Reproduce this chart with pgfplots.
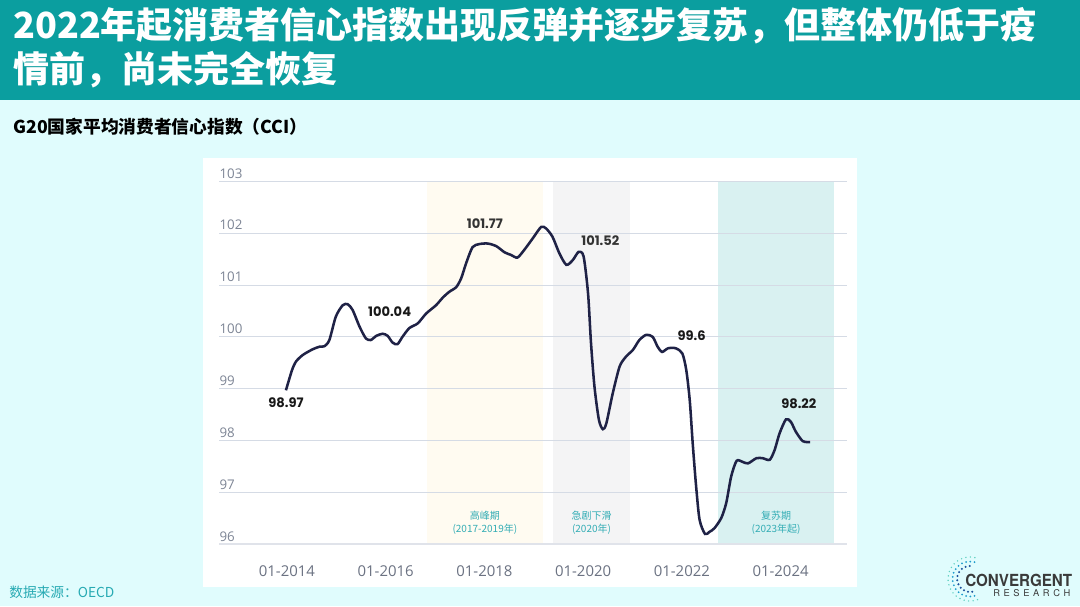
\documentclass[border=0pt]{standalone}
\usepackage{pgfplots}
\pgfplotsset{compat=1.18}
\usepackage{fontspec}
\setmainfont{Open Sans}
\newfontfamily\cjk{Noto Sans CJK SC}
\newfontfamily\pop{Poppins}
\newfontfamily\logofont{TeX Gyre Heros}
\definecolor{bg}{HTML}{E0FCFD}
\definecolor{titlebar}{HTML}{0B9E9F}
\definecolor{src}{HTML}{27AAB3}
\definecolor{peak}{HTML}{FFFBF1}
\definecolor{drop}{HTML}{F4F4F5}
\definecolor{recov}{HTML}{D9F1F1}
\definecolor{gridc}{HTML}{D5DBE5}
\definecolor{basec}{HTML}{E0E3EA}
\definecolor{linec}{HTML}{1F2246}
\definecolor{xtc}{HTML}{6B7282}
\definecolor{ytc}{HTML}{7D8595}
\definecolor{bandtxt}{HTML}{34ADB5}
\definecolor{logotxt}{HTML}{3A3A3A}
\definecolor{dotA}{HTML}{1B4F9C}
\definecolor{dotB}{HTML}{1E9CCC}
\definecolor{dotC}{HTML}{5FD0C0}
\pgfplotstableread{
x y
2013.98 98.97
2014.10 99.35
2014.18 99.52
2014.32 99.65
2014.52 99.76
2014.66 99.81
2014.76 99.82
2014.86 99.94
2014.99 100.39
2015.13 100.61
2015.23 100.63
2015.33 100.52
2015.47 100.20
2015.60 99.97
2015.70 99.94
2015.81 100.02
2015.94 100.06
2016.04 100.02
2016.14 99.89
2016.24 99.86
2016.34 100.00
2016.48 100.17
2016.65 100.26
2016.82 100.45
2017.02 100.61
2017.16 100.76
2017.29 100.87
2017.43 100.96
2017.53 101.13
2017.63 101.42
2017.76 101.73
2017.90 101.79
2018.07 101.80
2018.24 101.75
2018.41 101.63
2018.54 101.58
2018.67 101.53
2018.81 101.68
2018.98 101.90
2019.15 102.12
2019.25 102.09
2019.38 101.93
2019.52 101.61
2019.66 101.39
2019.79 101.48
2019.91 101.64
2020.01 101.55
2020.10 100.84
2020.16 99.88
2020.23 99.04
2020.32 98.40
2020.40 98.22
2020.47 98.33
2020.60 98.91
2020.74 99.43
2020.87 99.62
2021.01 99.75
2021.14 99.94
2021.28 100.04
2021.41 100.00
2021.51 99.81
2021.60 99.71
2021.72 99.78
2021.88 99.78
2022.01 99.68
2022.09 99.36
2022.16 98.78
2022.22 97.95
2022.29 97.11
2022.36 96.47
2022.47 96.20
2022.56 96.24
2022.66 96.31
2022.80 96.51
2022.90 96.80
2023.00 97.31
2023.11 97.61
2023.23 97.59
2023.34 97.56
2023.51 97.66
2023.64 97.66
2023.78 97.63
2023.88 97.82
2023.98 98.14
2024.11 98.41
2024.21 98.36
2024.31 98.17
2024.45 97.99
2024.60 97.97
}\ccidata
\begin{document}
\begin{tikzpicture}
\useasboundingbox (0,0) rectangle (810pt,-454.5pt);
\begin{scope}[x=0.75pt,y=-0.75pt]
\fill[bg] (0,0) rectangle (1080,606);
\fill[titlebar] (0,0) rectangle (1080,100);
\fill[white] (203,158) rectangle (857,587);
\node[anchor=base west, inner sep=0, text=white, font=\cjk\bfseries\fontsize{27}{30}\selectfont] at (13,38.5) {2022年起消费者信心指数出现反弹并逐步复苏，但整体仍低于疫};
\node[anchor=base west, inner sep=0, text=white, font=\cjk\bfseries\fontsize{27}{30}\selectfont] at (13,82.5) {情前，尚未完全恢复};
\node[anchor=base west, inner sep=0, text=black, font=\cjk\bfseries\fontsize{13.3}{15}\selectfont] at (13,133.5) {G20国家平均消费者信心指数（CCI）};
\node[anchor=base west, inner sep=0, text=src, font=\cjk\fontsize{10.3}{12}\selectfont] at (9,597) {数据来源：OECD};
% logo
\draw[dotA, line width=1.7pt, line cap=round, dash pattern=on 0pt off 3.2pt] (970,579) ++(80:13) arc (80:280:13);
\draw[dotB, line width=1.5pt, line cap=round, dash pattern=on 0pt off 3.2pt] (970,579) ++(75:17.5) arc (75:285:17.5);
\draw[dotC, line width=1.2pt, line cap=round, dash pattern=on 0pt off 3.4pt] (970,579) ++(70:22) arc (70:290:22);
\node[anchor=base west, inner sep=0, text=logotxt, font=\logofont\bfseries\fontsize{12.5}{14}\selectfont] at (965,586.7) {\scalebox{0.91}[1]{CONVERGENT}};
\node[anchor=base west, inner sep=0, text=logotxt, font=\logofont\fontsize{7}{8}\selectfont] at (993,596.7) {R\hspace{2.7pt}E\hspace{2.7pt}S\hspace{2.7pt}E\hspace{2.7pt}A\hspace{2.7pt}R\hspace{2.7pt}C\hspace{2.7pt}H};
\end{scope}
\begin{axis}[
  at={(164.475pt,-408.225pt)}, anchor=south west,
  scale only axis, width=470.55pt, height=272.25pt,
  xmin=2012.63, xmax=2025.34, ymin=96, ymax=103,
  axis line style={draw=none},
  xtick={2014,2016,2018,2020,2022,2024},
  xticklabels={01-2014,01-2016,01-2018,01-2020,01-2022,01-2024},
  ytick={96,97,...,103},
  major tick length=0pt,
  tick style={draw=none},
  yticklabel style={anchor=base west, inner sep=0pt, yshift=2.4pt, font=\fontsize{10}{12}\selectfont, text=ytc},
  xticklabel style={anchor=base, inner sep=0pt, yshift=-23.8pt, font=\fontsize{11.2}{13}\selectfont, text=xtc},
  /pgf/number format/assume math mode=true,
  clip=false,
]
% period bands
\addplot[fill=peak, draw=none] coordinates {(2016.84,96) (2019.18,96) (2019.18,103) (2016.84,103)};
\addplot[fill=drop, draw=none] coordinates {(2019.38,96) (2020.95,96) (2020.95,103) (2019.38,103)};
\addplot[fill=recov, draw=none] coordinates {(2022.74,96) (2025.09,96) (2025.09,103) (2022.74,103)};
% grid lines
\pgfplotsinvokeforeach{97,98,99,100,101,102,103}{
  \draw[gridc, line width=0.75pt] (axis cs:2012.63,#1) -- (axis cs:2025.34,#1);
}
\draw[basec, line width=1.6pt] (axis cs:2012.63,96) -- (axis cs:2025.34,96);
% band labels
\node[align=center, text=bandtxt, font=\cjk\fontsize{7.5}{9.5}\selectfont, inner sep=0] at (axis cs:2018.01,96.41) {高峰期\\(2017-2019年)};
\node[align=center, text=bandtxt, font=\cjk\fontsize{7.5}{9.5}\selectfont, inner sep=0] at (axis cs:2020.17,96.41) {急剧下滑\\(2020年)};
\node[align=center, text=bandtxt, font=\cjk\fontsize{7.5}{9.5}\selectfont, inner sep=0] at (axis cs:2023.91,96.41) {复苏期\\(2023年起)};
% data line
\addplot[linec, line width=1.9pt, smooth, tension=0.45, no markers] table[x=x,y=y] {\ccidata};
% data labels
\node[font=\pop\bfseries\fontsize{9.8}{11}\selectfont, text=black!90, inner sep=0] at (axis cs:2013.98,98.73) {98.97};
\node[font=\pop\bfseries\fontsize{9.8}{11}\selectfont, text=black!90, inner sep=0] at (axis cs:2016.08,100.49) {100.04};
\node[font=\pop\bfseries\fontsize{9.8}{11}\selectfont, text=black!80, inner sep=0] at (axis cs:2018.01,102.18) {101.77};
\node[font=\pop\bfseries\fontsize{9.8}{11}\selectfont, text=black!80, inner sep=0] at (axis cs:2020.35,101.85) {101.52};
\node[font=\pop\bfseries\fontsize{9.8}{11}\selectfont, text=black!90, inner sep=0] at (axis cs:2022.20,100.02) {99.6};
\node[font=\pop\bfseries\fontsize{9.8}{11}\selectfont, text=black!90, inner sep=0] at (axis cs:2024.37,98.71) {98.22};
\end{axis}
\end{tikzpicture}
\end{document}
